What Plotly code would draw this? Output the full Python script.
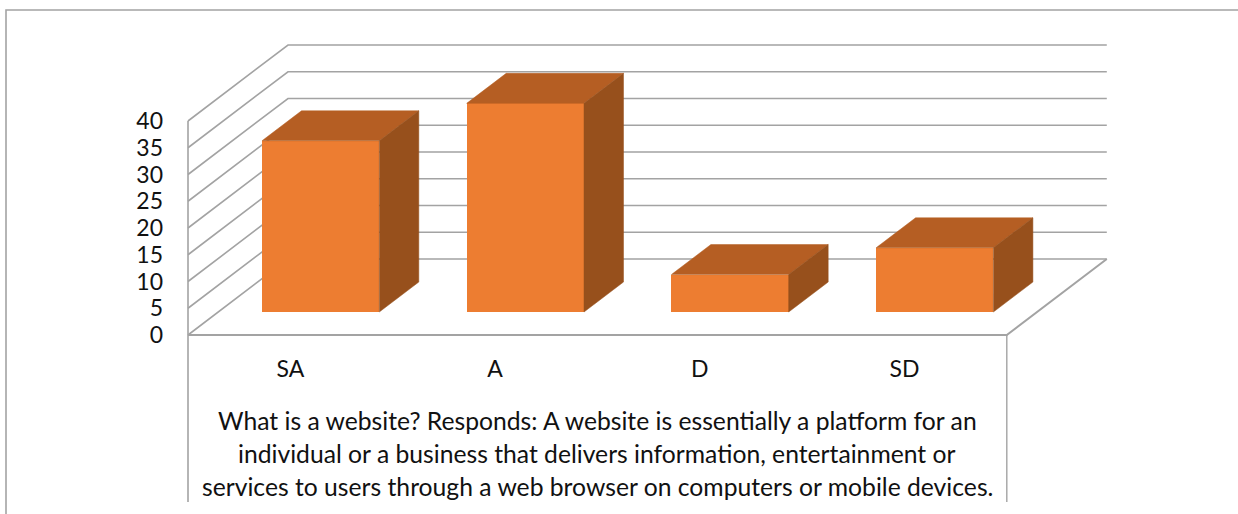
import plotly.graph_objects as go

categories = ["SA", "A", "D", "SD"]
values = [32, 39, 7, 12]
y_ticks = [0, 5, 10, 15, 20, 25, 30, 35, 40]
title_lines = [
    "What is a website? Responds: A website is essentially a platform for an",
    "individual or a business that delivers information, entertainment or",
    "services to users through a web browser on computers or mobile devices.",
]

W, H = 1238, 514
PX_X0, PX_CAT = 188.0, 204.7   # left wall pixel, pixels per category
PX_Y0, PX_UNIT = 335.0, 5.35   # floor pixel, pixels per value unit

# axis ranges that fill the whole figure
x_range = [-0.5 - PX_X0 / PX_CAT, -0.5 + (W - PX_X0) / PX_CAT]
y_range = [-(H - PX_Y0) / PX_UNIT, PX_Y0 / PX_UNIT]

# oblique projection, in axis units
WALL_DX, WALL_DY = 100.0 / PX_CAT, 76.0 / PX_UNIT
BAR_OX, BAR_OY = 30.3 / PX_CAT, 23.0 / PX_UNIT
BAR_DX, BAR_DY = 39.5 / PX_CAT, 30.0 / PX_UNIT
BAR_W = 117.3 / PX_CAT
x_left, x_right = -0.5, len(categories) - 0.5
y_low = y_range[0] + 12 / PX_UNIT

GRID = "#A3A3A3"
FRONT, TOP, SIDE = "#ED7D31", "#B55E23", "#97501C"

shapes = []


def seg(xs, ys, w=1.6):
    path = "M " + " L ".join(f"{a},{b}" for a, b in zip(xs, ys))
    shapes.append(dict(type="path", path=path, xref="x", yref="y", layer="below",
                       line=dict(color=GRID, width=w)))


for v in y_ticks:
    seg([x_left, x_left + WALL_DX, x_right + WALL_DX],
        [v, v + WALL_DY, v + WALL_DY], 1.6)
seg([x_left, x_left], [y_low, y_ticks[-1]], 1.6)
seg([x_right, x_right], [y_low, 0], 1.4)
seg([x_left, x_right, x_right + WALL_DX], [0, 0, WALL_DY], 2)

# outer chart border: left and top only
shapes.append(dict(type="path", xref="paper", yref="paper", layer="below",
                   path=f"M {6/W},0 L {6/W},{1-10/H} L 1,{1-10/H}",
                   line=dict(color=GRID, width=1.6)))

fig = go.Figure()
idx = list(range(len(categories)))
fig.add_trace(go.Bar(
    x=[i + BAR_OX for i in idx], y=values, base=BAR_OY, width=BAR_W,
    marker=dict(color=FRONT, line=dict(width=0)), showlegend=False,
))
for i, v in zip(idx, values):
    xl = i + BAR_OX - BAR_W / 2
    xr = i + BAR_OX + BAR_W / 2
    yb, yt = BAR_OY, BAR_OY + v
    fig.add_trace(go.Scatter(
        x=[xl, xr, xr + BAR_DX, xl + BAR_DX, xl],
        y=[yt, yt, yt + BAR_DY, yt + BAR_DY, yt],
        mode="lines", fill="toself", fillcolor=TOP, line=dict(width=0.5, color=TOP),
        hoverinfo="skip", showlegend=False))
    fig.add_trace(go.Scatter(
        x=[xr, xr + BAR_DX, xr + BAR_DX, xr, xr],
        y=[yb, yb + BAR_DY, yt + BAR_DY, yt, yb],
        mode="lines", fill="toself", fillcolor=SIDE, line=dict(width=0.5, color=SIDE),
        hoverinfo="skip", showlegend=False))

font = dict(family="Lato, sans-serif", size=23, color="#111111")
title_font = dict(family="Lato, sans-serif", size=24.7, color="#111111")
annotations = [
    dict(text=t, x=(x_left + x_right) / 2, y=-(py - PX_Y0) / PX_UNIT, xref="x", yref="y",
         showarrow=False, font=title_font, xanchor="center", yanchor="middle")
    for t, py in zip(title_lines, [420, 453, 486])
]

fig.update_layout(
    width=W, height=H, margin=dict(l=0, r=0, t=0, b=0),
    paper_bgcolor="white", plot_bgcolor="rgba(0,0,0,0)",
    shapes=shapes, annotations=annotations, showlegend=False, bargap=0,
    xaxis=dict(range=x_range, domain=[0, 1], anchor="free",
               position=(H - PX_Y0) / H, side="bottom",
               tickmode="array", tickvals=idx, ticktext=categories,
               showgrid=False, zeroline=False, showline=False, ticks="",
               tickfont=font, ticklabelstandoff=18),
    yaxis=dict(range=y_range, domain=[0, 1], anchor="free",
               position=PX_X0 / W, side="left",
               tickmode="array", tickvals=y_ticks,
               showgrid=False, zeroline=False, showline=False, ticks="",
               tickfont=font, ticklabelstandoff=25),
)
fig.write_html("out.html", config={"displayModeBar": False},
               post_script="document.body.style.margin='0';document.body.style.overflow='hidden';"
                           "document.body.style.fontVariantLigatures='none';")
